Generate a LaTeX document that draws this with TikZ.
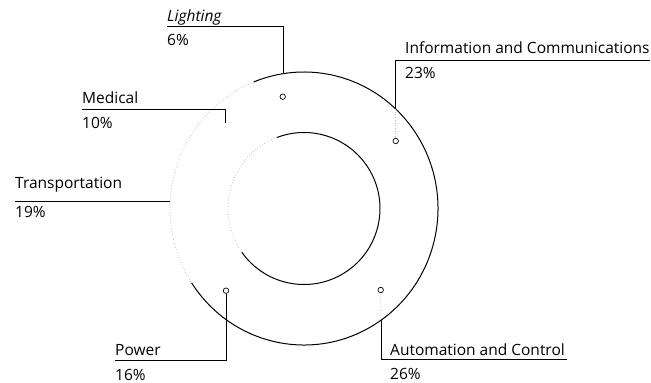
\documentclass[tikz,border=0pt]{standalone}
\usepackage{fontspec}
\setmainfont{Open Sans}
\begin{document}
\begin{tikzpicture}[x=1pt,y=-1pt,
  lbl/.style={anchor=base west,inner sep=0pt,font=\fontsize{15.5}{18}\selectfont},
  leader/.style={line width=0.9pt},
  ring/.style={line width=1pt},
  faint/.style={line width=0.7pt,gray!60,dotted},
  faintleader/.style={line width=0.7pt,gray!60,dotted},
  marker/.style={circle,draw,line width=0.7pt,minimum size=5.5pt,inner sep=0pt,fill=white},
]
\useasboundingbox (0,0) rectangle (651,383);
\coordinate (C) at (304,208.5);
% outer ring: solid part and faded part
\draw[ring] (C) ++(147:134 and 136.5) arc[start angle=147,end angle=-112,x radius=134,y radius=136.5];
\draw[faint] (C) ++(-112:134 and 136.5) arc[start angle=-112,end angle=-213,x radius=134,y radius=136.5];
% inner ring
\draw[ring] (C) ++(145:76) arc[start angle=145,end angle=-111,radius=76];
\draw[faint] (C) ++(-111:76) arc[start angle=-111,end angle=-215,radius=76];

% markers
\node[marker] (mLight) at (282.7,96.7) {};
\node[marker] (mInfo) at (395.7,141) {};
\node[marker] (mAuto) at (380.7,290) {};
\node[marker] (mPow) at (226,290.7) {};

% labels
\node[lbl] (tLight) at (167,21) {\itshape Lighting};
\node[lbl] (vLight) at (167,45) {6\%};
\node[lbl] (tInfo) at (405,53) {Information and Communications};
\node[lbl] (vInfo) at (405,78) {23\%};
\node[lbl] (tMed) at (82,103) {Medical};
\node[lbl] (vMed) at (82,128) {10\%};
\node[lbl] (tTrans) at (15,188) {Transportation};
\node[lbl] (vTrans) at (15,217) {19\%};
\node[lbl] (tPow) at (115,355) {Power};
\node[lbl] (vPow) at (115,380) {16\%};
\node[lbl] (tAuto) at (390,355) {Automation and Control};
\node[lbl] (vAuto) at (390,379) {26\%};

% leader points
\coordinate (aLight) at (167,26);
\coordinate (kLight) at (283,26);
\coordinate (jLight) at (283,73.7);
\coordinate (aInfo) at (650,60);
\coordinate (kInfo) at (395.7,60);
\coordinate (jInfo) at (395.7,109);
\coordinate (aMed) at (82,109);
\coordinate (kMed) at (225,109);
\coordinate (jMed) at (225,123);
\coordinate (aTrans) at (15,201);
\coordinate (jTrans) at (170,201);
\coordinate (aPow) at (115,360.5);
\coordinate (kPow) at (226,360.5);
\coordinate (aAuto) at (567,359);
\coordinate (kAuto) at (381,359);
\coordinate (jAuto) at (381,319);

% leaders
\draw[leader] (aLight) -- (kLight) -- (jLight);
\draw[leader] (aInfo) -- (kInfo) -- (jInfo);
\draw[faintleader] (jInfo) -- (mInfo);
\draw[leader] (aMed) -- (kMed) -- (jMed);
\draw[leader] (aTrans) -- (jTrans);
\draw[leader] (aPow) -- (kPow) -- (mPow);
\draw[leader] (aAuto) -- (kAuto) -- (jAuto);
\draw[faintleader] (jAuto) -- (mAuto);
\end{tikzpicture}
\end{document}
